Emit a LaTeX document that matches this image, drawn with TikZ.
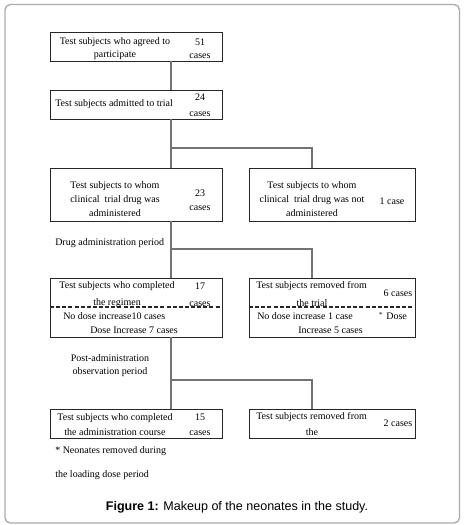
\documentclass[tikz,border=0pt]{standalone}
\usepackage{fontspec}
\setmainfont{Liberation Serif}
\newfontfamily\capfont{Liberation Sans}
\begin{document}
\begin{tikzpicture}[x=0.75pt,y=-0.75pt,
  box/.style={draw=black!85,line width=0.7pt},
  conn/.style={draw=black!55,line width=0.8pt},
  sepline/.style={draw=black!85,line width=1pt,dash pattern=on 3pt off 1.6pt},
  txt/.style={font=\fontsize{7.5}{10}\selectfont,inner sep=0pt,align=center},
  frame/.style={draw=black!33,line width=1pt,rounded corners=4pt}]
\useasboundingbox (0,0) rectangle (464,525);
\draw[frame] (5,4.5) rectangle (459.5,523);
% boxes
\draw[box] (50,32) rectangle (222,61);
\draw[box] (50,90) rectangle (222,119);
\draw[box] (50,168) rectangle (222,221);
\draw[box] (249,168) rectangle (415,221);
\draw[box] (50,278) rectangle (222,337);
\draw[box] (249,278) rectangle (415,337);
\draw[sepline] (50,307) -- (222,307);
\draw[sepline] (249,307) -- (415,307);
\draw[box] (50,409) rectangle (222,438);
\draw[box] (249,409) rectangle (415,438);
% anchor coordinates
\coordinate (b1) at (171,61);
\coordinate (b2t) at (171,90);
\coordinate (b2b) at (171,119);
\coordinate (j1) at (171,148);
\coordinate (j1r) at (312,148);
\coordinate (b3t) at (171,168);
\coordinate (b4t) at (312,168);
\coordinate (b3b) at (171,221);
\coordinate (j2) at (171,249);
\coordinate (j2r) at (312,249);
\coordinate (b5t) at (171,278);
\coordinate (b6t) at (312,278);
\coordinate (b5b) at (171,337);
\coordinate (j3) at (171,380);
\coordinate (j3r) at (312,380);
\coordinate (b7t) at (171,409);
\coordinate (b8t) at (312,409);
\draw[conn] (b1) -- (b2t);
\draw[conn] (b2b) -- (b3t);
\draw[conn] (j1) -- (j1r) -- (b4t);
\draw[conn] (b3b) -- (b5t);
\draw[conn] (j2) -- (j2r) -- (b6t);
\draw[conn] (b5b) -- (b7t);
\draw[conn] (j3) -- (j3r) -- (b8t);
% texts box1
\node[txt] (t1) at (115,48.5) {Test subjects who agreed to\\participate};
\node[txt] (n1) at (200,48.5) {51\\cases};
% box2
\node[txt,anchor=west] (t2) at (55,104) {Test subjects admitted to trial};
\node[txt] (n2) at (200,105) {24\\[2pt]cases};
% box3
\node[txt,font=\fontsize{7.5}{10.5}\selectfont] (t3) at (115,199.5) {Test subjects to whom\\clinical\ \ trial drug was\\administered};
\node[txt,font=\fontsize{7.5}{10.5}\selectfont] (n3) at (200,200) {23\\cases};
% box4
\node[txt,font=\fontsize{7.5}{10.5}\selectfont] (t4) at (312,199.5) {Test subjects to whom\\clinical\ \ trial drug was not\\administered};
\node[txt] (n4) at (392,201) {1 case};
\node[txt,anchor=west] (dap) at (55,243) {Drug administration period};
% box5
\node[txt,font=\fontsize{7.5}{12.75}\selectfont] (t5) at (117,294.5) {Test subjects who completed\\the regimen};
\node[txt,font=\fontsize{7.5}{12.75}\selectfont] (n5) at (200,294.5) {17\\cases};
\node[txt,anchor=west] (t5a) at (63,316) {No dose increase10 cases};
\node[txt,anchor=west] (t5b) at (90,330) {Dose Increase 7 cases};
% box6
\node[txt,anchor=west] (t6) at (256,286) {Test subjects removed from};
\node[txt] (t6b) at (312,303) {the trial};
\node[txt] (n6) at (398,293) {6 cases};
\node[txt,anchor=west] (t6c) at (257,316) {No dose increase 1 case};
\node[txt,anchor=west] (t6d) at (378,316) {$^{*}$ Dose};
\node[txt,anchor=west] (t6e) at (298,330) {Increase 5 cases};
% post-administration
\node[txt,font=\fontsize{7.5}{9.75}\selectfont] (pap) at (110,365.5) {Post-administration\\observation period};
% box7
\node[txt,font=\fontsize{7.5}{11.25}\selectfont] (t7) at (115,424.5) {Test subjects who completed\\the administration course};
\node[txt,font=\fontsize{7.5}{11.25}\selectfont] (n7) at (200,424.5) {15\\cases};
% box8
\node[txt,anchor=west] (t8) at (256,417) {Test subjects removed from};
\node[txt] (t8b) at (312,432) {the};
\node[txt] (n8) at (398,423) {2 cases};
% footnote
\node[txt,anchor=west,align=left,font=\fontsize{7.5}{18}\selectfont] (fn) at (55,463) {* Neonates removed during\\the loading dose period};
% caption
\node[inner sep=0pt,font=\capfont\fontsize{9.4}{11}\selectfont] (cap) at (237,507) {\textbf{Figure 1:} Makeup of the neonates in the study.};
\end{tikzpicture}
\end{document}
